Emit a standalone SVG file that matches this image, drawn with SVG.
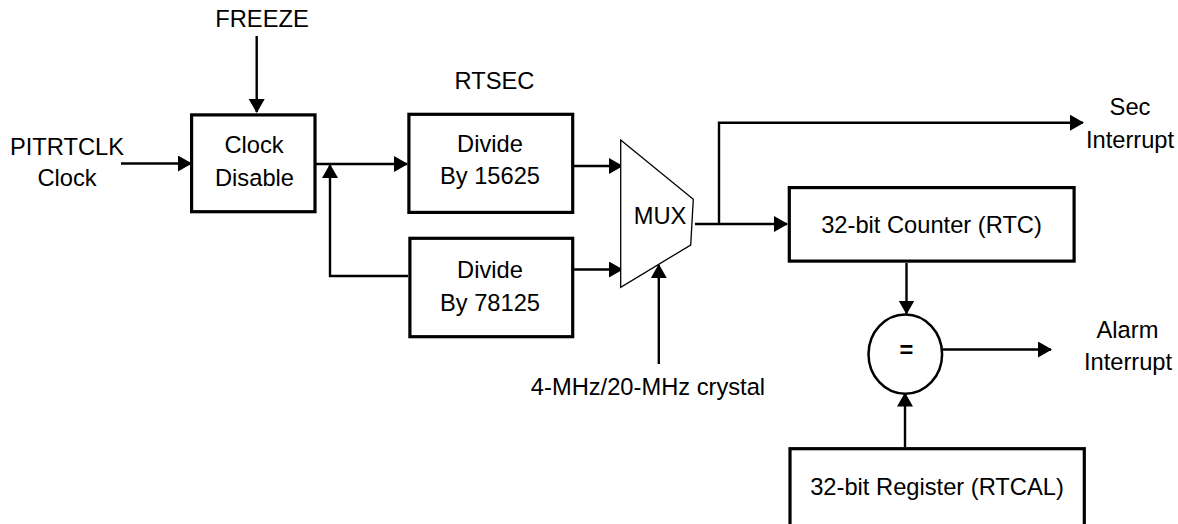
<svg xmlns="http://www.w3.org/2000/svg" width="1178" height="524" viewBox="0 0 1178 524">
<defs>
<style>
text{font-family:"Liberation Sans",Arial,sans-serif;font-size:23.7px;fill:#000;text-anchor:middle}
.box{fill:#fff;stroke:#000;stroke-width:3.2}
.wire{fill:none;stroke:#000;stroke-width:2.4}
.arr{marker-end:url(#ah)}
</style>
<marker id="ah" markerUnits="userSpaceOnUse" markerWidth="14" markerHeight="16" viewBox="0 0 14 16" refX="13" refY="8" orient="auto">
<path d="M0,0 L14,8 L0,16 Z" fill="#000"/>
</marker>
</defs>
<rect width="1178" height="524" fill="#fff"/>

<g id="connectors">
<path class="wire arr" d="M256.7,36 V112"/>
<path class="wire arr" d="M121,163.5 H191"/>
<path class="wire arr" d="M316,164 H407"/>
<path class="wire arr" d="M408,276 H330 V165"/>
<path class="wire arr" d="M574,166 H622"/>
<path class="wire arr" d="M574,269.5 H622"/>
<path class="wire arr" d="M695,224 H787"/>
<path class="wire arr" d="M719,224 V122.7 H1083"/>
<path class="wire arr" d="M658.8,364 V265"/>
<path class="wire arr" d="M906.5,263 V313.5"/>
<path class="wire arr" d="M943,349.5 H1051"/>
<path class="wire arr" d="M905,447 V393.5"/>
</g>

<g id="freeze-label"><text x="262" y="27">FREEZE</text></g>
<g id="pitrtclk-label"><text x="67" y="155">PITRTCLK</text><text x="67" y="186">Clock</text></g>

<g id="clock-disable">
<rect class="box" x="191.6" y="114.9" width="123.4" height="96.8"/>
<text x="254" y="152.7">Clock</text>
<text x="254.5" y="186">Disable</text>
</g>

<g id="rtsec-label"><text x="494.5" y="89.3">RTSEC</text></g>

<g id="divide-15625">
<rect class="box" x="408.9" y="114.3" width="163.8" height="98.1"/>
<text x="490" y="151.7">Divide</text>
<text x="490" y="184.3">By 15625</text>
</g>

<g id="divide-78125">
<rect class="box" x="409.9" y="238.3" width="162.8" height="98.4"/>
<text x="490" y="278.3">Divide</text>
<text x="490" y="310.7">By 78125</text>
</g>

<g id="mux">
<path d="M620.7,140 L693.3,199.3 L690.7,245 L620.7,287.3 Z" fill="#fff" stroke="#000" stroke-width="1.3"/>
<text x="660" y="224.3">MUX</text>
</g>

<g id="crystal-label"><text x="648" y="395">4-MHz/20-MHz crystal</text></g>

<g id="sec-interrupt-label"><text x="1130" y="115">Sec</text><text x="1130" y="148.3">Interrupt</text></g>

<g id="counter">
<rect class="box" x="789.3" y="187.6" width="284.8" height="73.5"/>
<text x="931.5" y="232.7">32-bit Counter (RTC)</text>
</g>

<g id="comparator">
<ellipse cx="905.3" cy="354.2" rx="36.8" ry="39.6" fill="#fff" stroke="#000" stroke-width="2.5"/>
<text x="906.5" y="358" style="font-weight:bold">=</text>
</g>

<g id="alarm-interrupt-label"><text x="1127.5" y="338.3">Alarm</text><text x="1128" y="370">Interrupt</text></g>

<g id="register">
<rect class="box" x="790" y="448.7" width="294.3" height="90"/>
<text x="937" y="495">32-bit Register (RTCAL)</text>
</g>
</svg>
